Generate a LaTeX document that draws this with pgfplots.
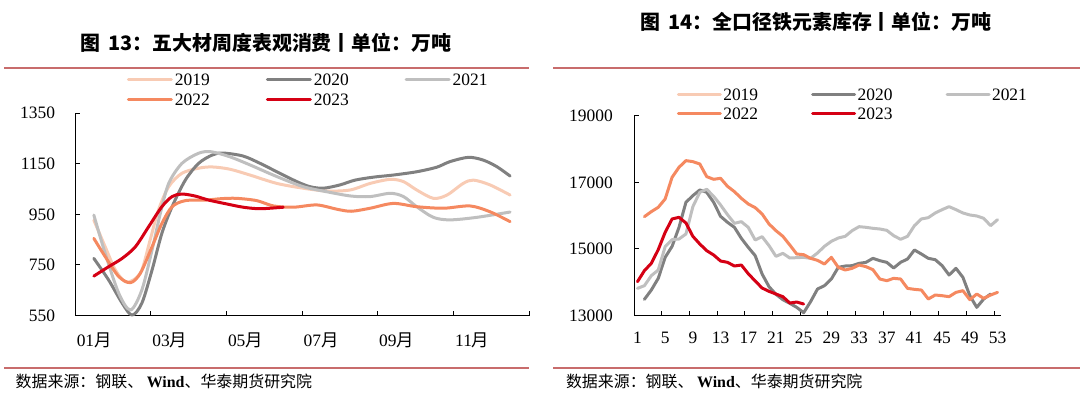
\documentclass[border=0pt]{standalone}
\usepackage{fontspec}
\setmainfont{Liberation Serif}
\newfontfamily\cjk{Noto Sans CJK SC}
\usepackage{pgfplots}
\pgfplotsset{compat=1.18}
\definecolor{c19}{RGB}{248,203,180}
\definecolor{c20}{RGB}{128,128,128}
\definecolor{c21}{RGB}{191,191,191}
\definecolor{c22}{RGB}{245,137,96}
\definecolor{c23}{RGB}{213,0,20}
\definecolor{rulec}{RGB}{200,108,108}
\pgfplotsset{
  mystyle/.style={
    scale only axis,
    axis x line*=bottom, axis y line*=left,
    axis line style={line width=1bp, black},
    tick align=inside,
    major tick length=5bp,
    tick style={line width=1bp, black},
    tick label style={font=\fontsize{17.5}{17.5}\selectfont},
    scaled y ticks=false, scaled x ticks=false,
    clip=false,
    legend columns=3,
    legend cell align=left,
    legend style={draw=none, fill=none, inner sep=0pt, outer sep=0pt,
      font=\fontsize{17.5}{17.5}\selectfont,
      nodes={inner sep=0pt, text height=12bp, text depth=0pt}},
    every axis plot/.append style={line width=3bp, line join=round, line cap=round, no markers},
  }
}
\begin{document}
\begin{tikzpicture}
\path[use as bounding box] (0,0) rectangle (1080bp,396bp);
% titles and rules
\node[anchor=center] at (266bp,353bp) {\fontsize{20}{20}\selectfont\cjk\bfseries 图\hspace{0.4em}13：五大材周度表观消费丨单位：万吨};
\node[anchor=center] at (816bp,374.3bp) {\fontsize{20}{20}\selectfont\cjk\bfseries 图\hspace{0.4em}14：全口径铁元素库存丨单位：万吨};
\draw[rulec, line width=2bp] (4bp,328.3bp) -- (529bp,328.3bp);
\draw[rulec, line width=2bp] (553bp,328.3bp) -- (1080bp,328.3bp);
\draw[rulec, line width=2bp] (4bp,28bp) -- (529bp,28bp);
\draw[rulec, line width=2bp] (553bp,28bp) -- (1080bp,28bp);
\node[anchor=west, inner sep=0pt] at (15.5bp,14.3bp) {\fontsize{16}{16}\selectfont{\cjk 数据来源：钢联、 }{\bfseries Wind}{\cjk 、华泰期货研究院}};
\node[anchor=west, inner sep=0pt] at (565.8bp,14.3bp) {\fontsize{16}{16}\selectfont{\cjk 数据来源：钢联、 }{\bfseries Wind}{\cjk 、华泰期货研究院}};

% left chart
\begin{axis}[mystyle, at={(75.3bp,80.4bp)}, anchor=south west,
  width=453.7bp, height=202.6bp,
  xmin=0, xmax=12, ymin=550, ymax=1350,
  ytick={550,750,950,1150,1350}, yticklabels={550,750,950,1150,1350},
  yticklabel style={anchor=east, inner sep=0pt, xshift=-20bp},
  xtick={2,4,...,12}, xticklabels={},
  extra x ticks={0.5,2.5,4.5,6.5,8.5,10.5},
  extra x tick labels={{01{\cjk 月}},{03{\cjk 月}},{05{\cjk 月}},{07{\cjk 月}},{09{\cjk 月}},{11{\cjk 月}}},
  extra x tick style={major tick length=0pt},
  xticklabel style={anchor=base, inner sep=0pt, yshift=-31bp},
  legend style={at={(axis description cs:0.1139,1.1925)}, anchor=north west,
    row sep=8bp,
    /tikz/every odd column/.append style={column sep=2bp},
    /tikz/every even column/.append style={column sep=56bp}},
  legend image code/.code={\draw[#1] (0bp,0bp) -- (43bp,0bp);},
]
\addplot[c19, smooth] coordinates {(0.49,927) (0.79,822) (1.06,730) (1.32,684) (1.54,691) (1.76,730) (1.98,849) (2.2,967) (2.47,1059) (2.82,1112) (3.26,1132) (3.62,1137) (4.09,1128) (4.62,1105) (5.33,1072) (6.03,1053) (6.65,1042) (7.27,1046) (7.8,1072) (8.33,1088) (8.68,1079) (9.03,1046) (9.47,1013) (9.83,1026) (10.26,1072) (10.53,1085) (10.97,1066) (11.5,1026)};
\addlegendentry{2019}
\addplot[c20, smooth] coordinates {(0.49,776) (0.88,691) (1.24,599) (1.5,552) (1.76,599) (2.03,730) (2.29,875) (2.56,980) (2.91,1085) (3.26,1151) (3.62,1184) (3.9,1192) (4.44,1180) (4.89,1151) (5.33,1118) (5.86,1079) (6.21,1059) (6.56,1053) (7.0,1066) (7.4,1085) (7.9,1097) (8.41,1105) (9.03,1118) (9.56,1136) (9.91,1158) (10.4,1175) (10.79,1164) (11.15,1138) (11.5,1101)};
\addlegendentry{2020}
\addplot[c21, smooth] coordinates {(0.49,947) (0.79,796) (1.15,638) (1.46,572) (1.76,651) (2.03,809) (2.25,954) (2.47,1072) (2.82,1151) (3.26,1191) (3.59,1197) (4.09,1177) (4.62,1145) (5.33,1099) (6.03,1059) (6.65,1039) (7.3,1022) (7.8,1020) (8.33,1033) (8.68,1020) (9.03,980) (9.47,938) (9.91,928) (10.62,938) (11.5,959)};
\addlegendentry{2021}
\addplot[c22, smooth] coordinates {(0.49,855) (0.79,783) (1.15,704) (1.46,680) (1.72,717) (2.03,822) (2.29,914) (2.56,980) (2.91,1004) (3.44,1006) (3.88,1012) (4.27,1013) (4.8,1004) (5.24,983) (5.77,978) (6.39,987) (6.92,970) (7.3,962) (7.8,974) (8.41,993) (9.03,980) (9.74,974) (10.44,983) (10.97,960) (11.5,921)};
\addlegendentry{2022}
\addplot[c23, smooth] coordinates {(0.49,706) (0.88,743) (1.24,776) (1.59,822) (1.94,901) (2.29,980) (2.56,1020) (2.82,1030) (3.17,1022) (3.53,1006) (4.0,991) (4.44,978) (4.89,972) (5.5,978)};
\addlegendentry{2023}
\end{axis}

% right chart
\begin{axis}[mystyle, at={(634bp,80.3bp)}, anchor=south west,
  width=367bp, height=200.1bp,
  xmin=0.5, xmax=53.5, ymin=13000, ymax=19000,
  ytick={13000,15000,17000,19000}, yticklabels={13000,15000,17000,19000},
  yticklabel style={anchor=east, inner sep=0pt, xshift=-21bp},
  xtick={4.5,8.5,...,52.5}, xticklabels={},
  extra x ticks={1,5,...,53},
  extra x tick labels={1,5,9,13,17,21,25,29,33,37,41,45,49,53},
  extra x tick style={major tick length=0pt},
  xticklabel style={anchor=base, inner sep=0pt, yshift=-28.3bp},
  legend style={at={(axis description cs:0.1166,1.1364)}, anchor=north west,
    row sep=7bp,
    /tikz/every odd column/.append style={column sep=1.5bp},
    /tikz/every even column/.append style={column sep=53bp}},
  legend image code/.code={\draw[#1] (0bp,0bp) -- (42bp,0bp);},
]
\addlegendimage{c19, line width=3bp, line cap=round}
\addlegendentry{2019}
\addplot[c20] coordinates {(2,13490) (3,13770) (4,14120) (5,14750) (6,15080) (7,15650) (8,16400) (9,16600) (10,16770) (11,16700) (12,16400) (13,15980) (14,15800) (15,15650) (16,15320) (17,15050) (18,14800) (19,14250) (20,13870) (21,13640) (22,13480) (23,13370) (24,13250) (25,13090) (26,13420) (27,13800) (28,13900) (29,14100) (30,14450) (31,14490) (32,14500) (33,14570) (34,14600) (35,14720) (36,14650) (37,14600) (38,14430) (39,14600) (40,14700) (41,14970) (42,14850) (43,14720) (44,14680) (45,14500) (46,14220) (47,14420) (48,14150) (49,13600) (50,13250) (51,13500) (52,13650)};
\addlegendentry{2020}
\addplot[c21] coordinates {(1,13820) (2,13900) (3,14200) (4,14370) (5,15070) (6,15280) (7,15300) (8,15450) (9,16270) (10,16700) (11,16790) (12,16580) (13,16320) (14,16030) (15,15770) (16,15820) (17,15650) (18,15270) (19,15370) (20,15100) (21,14780) (22,14870) (23,14730) (24,14740) (25,14750) (26,14720) (27,14880) (28,15080) (29,15230) (30,15330) (31,15380) (32,15550) (33,15670) (34,15650) (35,15620) (36,15600) (37,15560) (38,15400) (39,15290) (40,15380) (41,15700) (42,15900) (43,15940) (44,16080) (45,16180) (46,16270) (47,16180) (48,16080) (49,16020) (50,15990) (51,15920) (52,15700) (53,15880)};
\addlegendentry{2021}
\addplot[c22] coordinates {(2,15970) (3,16120) (4,16250) (5,16500) (6,17150) (7,17450) (8,17650) (9,17620) (10,17550) (11,17170) (12,17090) (13,17120) (14,16880) (15,16720) (16,16520) (17,16350) (18,16240) (19,16050) (20,15750) (21,15550) (22,15380) (23,15120) (24,14850) (25,14830) (26,14720) (27,14660) (28,14550) (29,14750) (30,14450) (31,14370) (32,14420) (33,14520) (34,14470) (35,14380) (36,14100) (37,14050) (38,14120) (39,14100) (40,13820) (41,13790) (42,13770) (43,13500) (44,13620) (45,13600) (46,13570) (47,13700) (48,13750) (49,13480) (50,13650) (51,13520) (52,13620) (53,13700)};
\addlegendentry{2022}
\addplot[c23] coordinates {(1,14020) (2,14350) (3,14570) (4,14980) (5,15500) (6,15900) (7,15950) (8,15780) (9,15380) (10,15150) (11,14950) (12,14820) (13,14640) (14,14600) (15,14490) (16,14520) (17,14260) (18,14040) (19,13830) (20,13730) (21,13650) (22,13570) (23,13380) (24,13410) (25,13350)};
\addlegendentry{2023}
\end{axis}
\end{tikzpicture}
\end{document}
